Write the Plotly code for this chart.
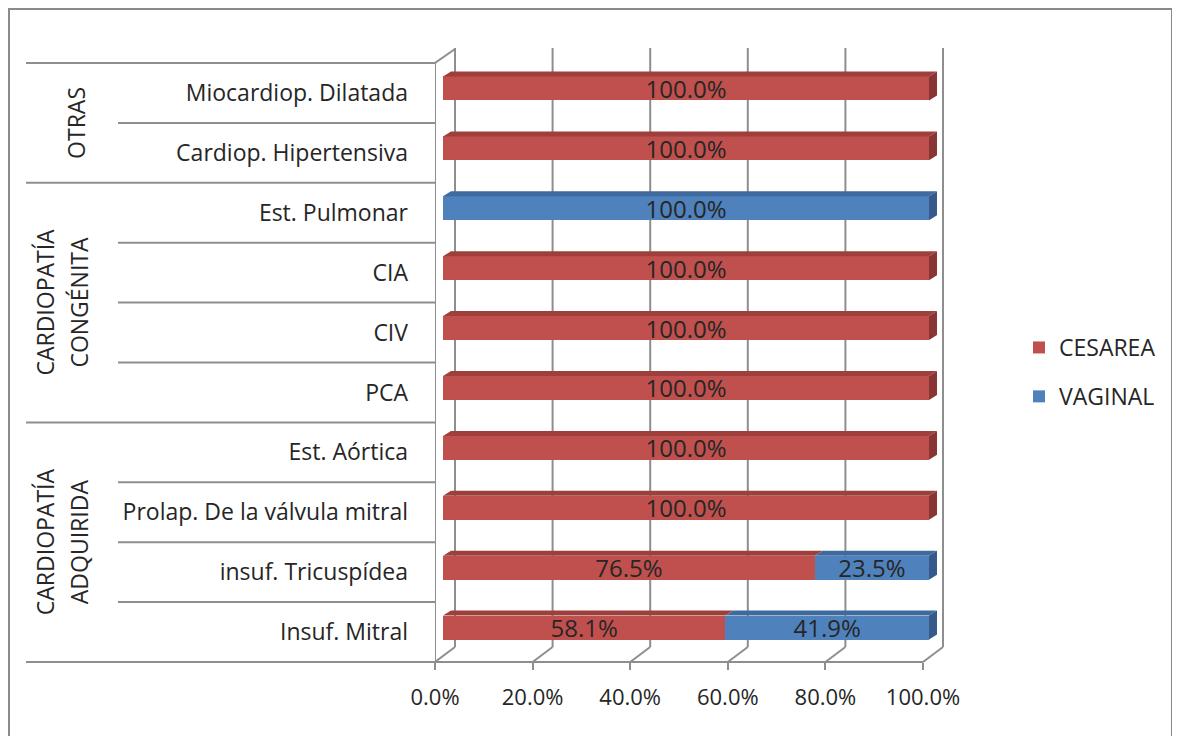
import plotly.graph_objects as go

# ---------------- data ----------------
categories = ["Insuf. Mitral", "insuf. Tricuspídea", "Prolap. De la válvula mitral",
              "Est. Aórtica", "PCA", "CIV", "CIA", "Est. Pulmonar",
              "Cardiop. Hipertensiva", "Miocardiop. Dilatada"]
groups = [["CARDIOPATÍA", "ADQUIRIDA"], ["CARDIOPATÍA", "CONGÉNITA"], ["OTRAS"]]
group_sizes = [4, 4, 2]
cesarea = [58.1, 76.5, 100, 100, 100, 100, 100, 0, 100, 100]
vaginal = [41.9, 23.5, 0, 0, 0, 0, 0, 100, 0, 0]
series_names = ["CESAREA", "VAGINAL"]
tick_vals = [0, 20, 40, 60, 80, 100]
tick_text = ["0.0%", "20.0%", "40.0%", "60.0%", "80.0%", "100.0%"]

# ---------------- style / geometry (screen pixels) ----------------
PAGE_OFF = 8                      # browser body margin
W_FIG, H_FIG = 1180 - PAGE_OFF, 736 - PAGE_OFF
L, R_EDGE, T, B = 435, 945, 40, 662   # plot area in screen px
PW, PH = R_EDGE - L, B - T
ROW = 59.9
FONT = "Open Sans"
TXT = "#262626"
GRID = "#8E8E8E"
RED, BLUE = "#C0504D", "#4F81BD"
RED_TOP, RED_SIDE = "#9E3F3C", "#883533"
BLUE_TOP, BLUE_SIDE = "#3F6A9E", "#34598A"
BAR_W, BAR_OFF = 0.4, -0.125
S_BAR = 4.86          # px per unit on bar plane
S_FRONT = 4.88        # px per unit on front axis
BACK_DX = 20          # px shift front->back
BACK_TOP, BACK_BOT = 48, 647
FRONT_TOP = 63
DEPTH_PX = (8, 5)     # bar depth offset (x right, y up)
GROUP_LINE_X = {1: [76], 2: [45, 79]}   # centres of rotated label columns


def px_x(p):
    return (p - L) / PW


def px_y(p):
    return (B - p) / PH


bar_r0 = -(443 - L) / S_BAR
bar_range = [bar_r0, bar_r0 + PW / S_BAR]
front_range = [0, PW / S_FRONT]
back_shift = BACK_DX / S_FRONT
y_range = [-0.5, -0.5 + PH / ROW]

fig = go.Figure()
colors = [RED, BLUE]
for name, vals, col, grp in zip(series_names, [cesarea, vaginal], colors, ["a", "b"]):
    fig.add_trace(go.Bar(
        y=categories, x=vals, name=name, orientation="h",
        marker=dict(color=col, line=dict(width=0)),
        width=BAR_W, offset=BAR_OFF,
        text=[f"{v:.1f}%" if v > 0 else "" for v in vals],
        textposition="inside", insidetextanchor="middle", textangle=0,
        constraintext="none",
        textfont=dict(family=FONT, size=24, color=TXT),
        legendgroup=grp, hoverinfo="skip",
        xaxis="x", yaxis="y",
    ))

# invisible trace to activate front tick axis
fig.add_trace(go.Scatter(x=[0], y=[categories[0]], xaxis="x2", yaxis="y",
                         mode="markers", marker=dict(opacity=0), showlegend=False,
                         hoverinfo="skip"))

shapes = []
line_style = dict(color=GRID, width=2)

# back wall gridlines + floor diagonals
for t in tick_vals:
    shapes.append(dict(type="line", xref="x2", yref="paper", x0=t + back_shift, x1=t + back_shift,
                       y0=px_y(BACK_BOT), y1=px_y(BACK_TOP), line=line_style, layer="below"))
    shapes.append(dict(type="line", xref="x2", yref="paper", x0=t, x1=t + back_shift,
                       y0=px_y(B), y1=px_y(BACK_BOT), line=line_style, layer="below"))
# left wall
shapes.append(dict(type="line", xref="x2", yref="paper", x0=0, x1=0,
                   y0=px_y(B), y1=px_y(FRONT_TOP), line=line_style, layer="below"))
shapes.append(dict(type="line", xref="x2", yref="paper", x0=0, x1=back_shift,
                   y0=px_y(FRONT_TOP), y1=px_y(BACK_TOP + 1), line=line_style, layer="below"))
# floor front line (extends to the left label area)
shapes.append(dict(type="line", xref="paper", yref="paper", x0=px_x(26), x1=px_x(L + S_FRONT * 100),
                   y0=px_y(B), y1=px_y(B), line=line_style, layer="below"))

# category separators
bounds = [0]
for g in group_sizes:
    bounds.append(bounds[-1] + g)
for k in range(1, len(categories) + 1):
    x0 = px_x(26) if k in bounds else px_x(118)
    shapes.append(dict(type="line", xref="paper", yref="y", x0=x0, x1=0,
                       y0=k - 0.5, y1=k - 0.5, line=line_style))

# 3D faces of the bars
dxu = DEPTH_PX[0] / S_BAR
dyu = DEPTH_PX[1] / ROW
for i in range(len(categories)):
    start = 0
    segs = []
    for vals, top_c, side_c in [(cesarea, RED_TOP, RED_SIDE), (vaginal, BLUE_TOP, BLUE_SIDE)]:
        v = vals[i]
        if v > 0:
            segs.append((start, start + v, top_c, side_c))
        start += v
    y_bot = i + BAR_OFF
    y_top = y_bot + BAR_W
    for s, e, top_c, side_c in segs:
        path = f"M {s},{y_top} L {e},{y_top} L {e + dxu},{y_top + dyu} L {s + dxu},{y_top + dyu} Z"
        shapes.append(dict(type="path", xref="x", yref="y", path=path,
                           fillcolor=top_c, line=dict(width=0)))
    s, e, top_c, side_c = segs[-1]
    path = f"M {e},{y_bot} L {e},{y_top} L {e + dxu},{y_top + dyu} L {e + dxu},{y_bot + dyu} Z"
    shapes.append(dict(type="path", xref="x", yref="y", path=path,
                       fillcolor=side_c, line=dict(width=0)))

# outer chart border (left/top edges as close to the page corner as possible)
shapes.append(dict(type="rect", xref="paper", yref="paper", x0=px_x(9), x1=px_x(1172),
                   y0=px_y(760), y1=px_y(9), line=dict(color="#8A8A8A", width=2),
                   fillcolor="rgba(0,0,0,0)", layer="below"))

# group labels (rotated, one annotation per text line)
annotations = []
for gi, lines in enumerate(groups):
    center = (bounds[gi] + bounds[gi + 1]) / 2 - 0.5
    for line, xc in zip(lines, GROUP_LINE_X[len(lines)]):
        annotations.append(dict(text=line, xref="paper", yref="y", x=px_x(xc), y=center,
                                xanchor="center", yanchor="middle",
                                textangle=-90, showarrow=False,
                                font=dict(family=FONT, size=23, color=TXT)))

fig.update_layout(
    width=W_FIG, height=H_FIG,
    margin=dict(l=L - PAGE_OFF, r=1180 - R_EDGE, t=T - PAGE_OFF, b=736 - B),
    paper_bgcolor="white", plot_bgcolor="rgba(0,0,0,0)",
    barmode="stack",
    font=dict(family=FONT, size=20, color=TXT),
    xaxis=dict(range=bar_range, showgrid=False, zeroline=False, showticklabels=False,
               showline=False, fixedrange=True),
    xaxis2=dict(range=front_range, overlaying="x", side="bottom", anchor="y",
                tickvals=tick_vals, ticktext=tick_text, ticks="outside", ticklen=7,
                tickwidth=2, tickcolor=GRID, showgrid=False, zeroline=False, showline=False,
                ticklabelstandoff=9, tickfont=dict(family=FONT, size=22, color=TXT)),
    yaxis=dict(type="category", categoryorder="array", categoryarray=categories,
               range=y_range, showgrid=False, zeroline=False, showline=False, ticks="",
               ticklabelstandoff=26, tickfont=dict(family=FONT, size=23, color=TXT)),
    legend=dict(x=px_x(1019), y=px_y(326), xanchor="left", yanchor="top",
                traceorder="grouped", tracegroupgap=16, bgcolor="rgba(0,0,0,0)",
                font=dict(family=FONT, size=23, color=TXT)),
    shapes=shapes, annotations=annotations,
    showlegend=True,
)

fig.write_html("out.html")
